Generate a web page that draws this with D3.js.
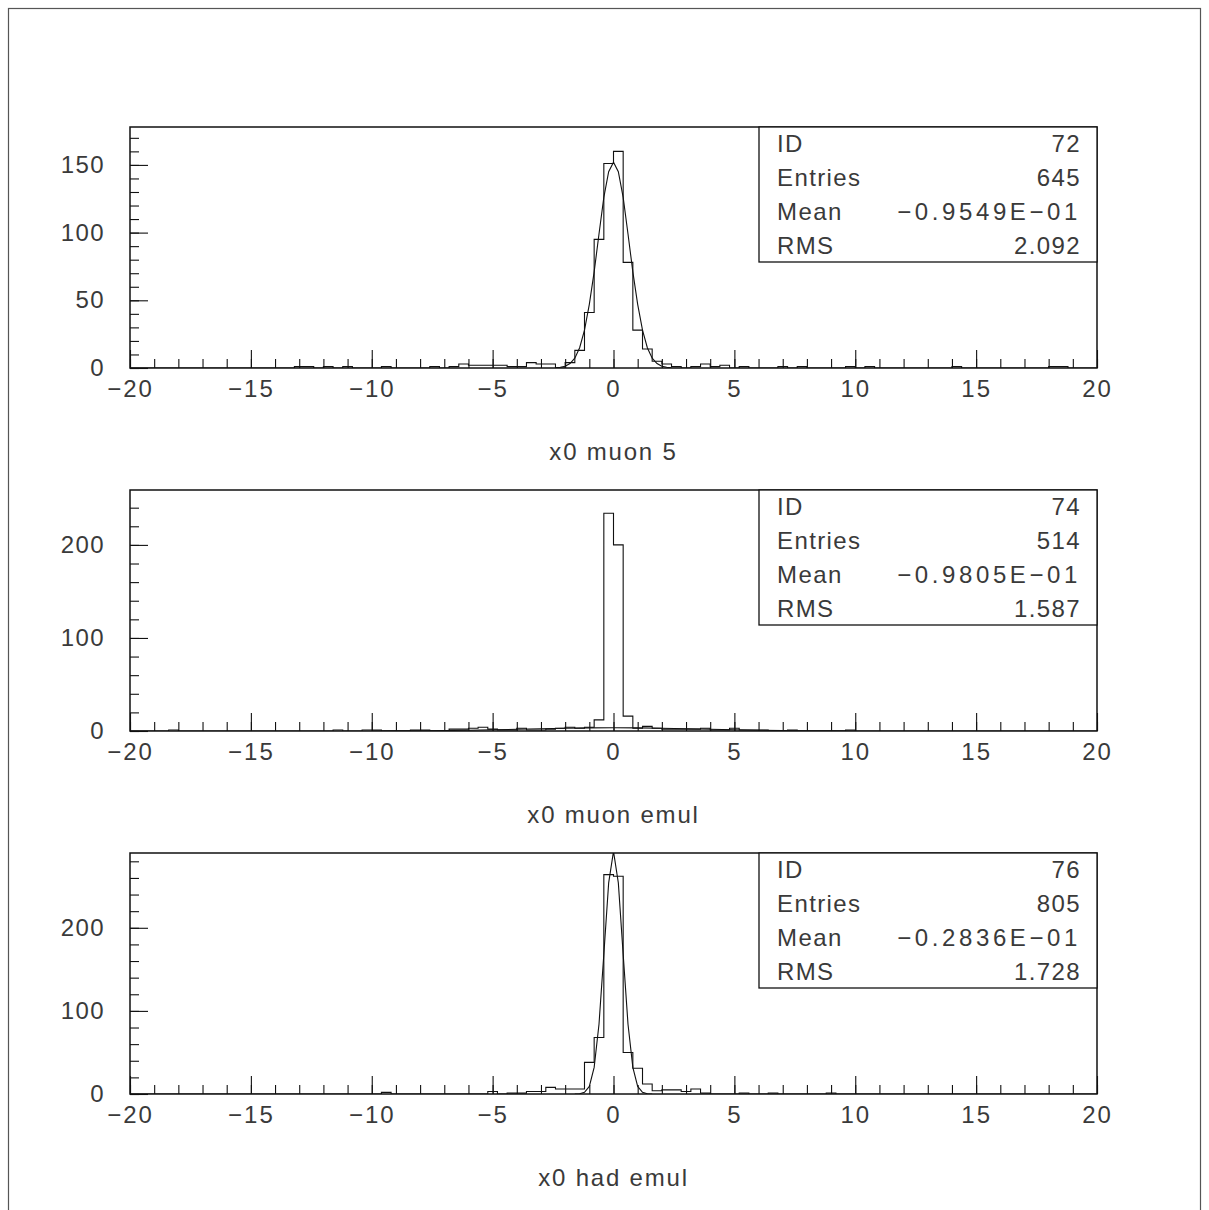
<!DOCTYPE html>
<html><head><meta charset="utf-8">
<script src="https://cdn.jsdelivr.net/npm/d3@7"></script>
<style>
body{margin:0;background:#fff}
text{font-family:"Liberation Sans",Arial,sans-serif;font-size:24px;letter-spacing:1.4px;fill:#3a3a3a}
</style>
</head><body>
<svg id="c" width="1209" height="1210"></svg>
<script>
// ---------- DATA ----------
const xDomain = [-20, 20];
const nBins = 100;
const xMajorTicks = [-20, -15, -10, -5, 0, 5, 10, 15, 20];

const titles = ["x0 muon 5", "x0 muon emul", "x0 had emul"];
const statLabels = ["ID", "Entries", "Mean", "RMS"];
const histIds = ["72", "74", "76"];
const histEntries = ["645", "514", "805"];
const histMeans = ["\u22120.9549E\u221201", "\u22120.9805E\u221201", "\u22120.2836E\u221201"];
const histRms = ["2.092", "1.587", "1.728"];

const yMaxes = [178, 259, 290];
const yMajorTicks = [[0, 50, 100, 150], [0, 100, 200], [0, 100, 200]];
const yMinorStep = [10, 20, 20];

// bin contents, 100 bins of width 0.4 from -20 to 20
const h72 = [
  0,0,0,0,0,0,0,0,0,0,
  0,0,0,0,0,0,0,1,1,0,
  1,0,1,0,0,0,1,0,0,0,
  0,1,0,1,3,2,2,2,2,1,
  1,4,3,3,0,4,13,41,95,151,
  160,78,28,14,5,3,1,0,1,3,
  1,2,0,1,0,0,0,1,0,1,
  0,0,0,0,1,0,1,0,0,0,
  0,0,0,0,0,1,0,0,0,0,
  0,0,0,0,0,1,1,0,0,0];
const h74 = [
  0,0,0,0,1,0,0,0,0,0,
  0,0,0,0,0,0,0,0,0,0,
  0,1,0,0,1,1,0,0,0,1,
  1,0,0,2,2,3,4,2,1,1,
  3,1,1,2,3,4,3,4,12,234,
  200,16,3,5,3,2,2,2,2,3,
  1,1,3,1,1,1,0,0,1,0,
  0,0,0,0,1,0,0,0,0,0,
  0,0,0,0,0,0,0,0,0,0,
  0,0,0,0,0,0,0,0,0,0];
const h76 = [
  0,0,0,0,0,0,0,0,0,0,
  0,0,0,0,0,0,0,0,0,0,
  0,0,0,0,0,0,2,0,0,0,
  0,0,0,0,0,0,0,3,0,1,
  1,3,3,8,6,6,6,38,68,264,
  262,50,31,12,4,5,5,3,6,1,
  0,0,0,1,0,0,1,0,0,0,
  0,0,1,0,0,0,0,0,0,0,
  0,0,0,0,0,0,0,0,0,0,
  0,0,0,0,0,0,0,0,0,0];

const fit72X = [-2.4,-2.2,-2.0,-1.8,-1.6,-1.4,-1.2,-1.0,-0.8,-0.6,-0.4,-0.2,0,0.2,0.4,0.6,0.8,1.0,1.2,1.4,1.6,1.8,2.0,2.2,2.4];
const fit72Y = [0.1,0.5,1.3,3.3,7.3,15,28,47,71,99,126,145,152,145,126,99,71,47,28,15,7.3,3.3,1.3,0.5,0.1];
const fit74X = [-10,-9,-8,-7,-6,-5,-4,-3,-2,-1,0,1,2,3,4,5,6,7,8,9,10];
const fit74Y = [0.06,0.13,0.25,0.47,0.81,1.27,1.83,2.41,2.97,3.36,3.5,3.36,2.97,2.41,1.83,1.27,0.81,0.47,0.25,0.13,0.06];
const fit76X = [-1.6,-1.4,-1.2,-1.0,-0.8,-0.6,-0.4,-0.2,0,0.2,0.4,0.6,0.8,1.0,1.2,1.4,1.6];
const fit76Y = [0.04,0.33,2,9.1,32,84,168,254,292,254,168,84,32,9.1,2,0.33,0.04];

const countsList = [h72, h74, h76];
const fitXs = [fit72X, fit74X, fit76X];
const fitYs = [fit72Y, fit74Y, fit76Y];

// ---------- DRAW ----------
const svg = d3.select("#c");
svg.append("rect").attr("x", 8.5).attr("y", 8.5).attr("width", 1192).attr("height", 1230)
  .attr("fill", "none").attr("stroke", "#555").attr("stroke-width", 1.2);

const L = 130, R = 1097, plotH = 241;
const tops = [127, 490, 853];
const x = d3.scaleLinear().domain(xDomain).range([L, R]);
const binW = (xDomain[1] - xDomain[0]) / nBins;

titles.forEach((title, k) => {
  const top = tops[k], bottom = top + plotH;
  const y = d3.scaleLinear().domain([0, yMaxes[k]]).range([bottom, top]);
  const g = svg.append("g");

  const clipId = "clip" + k;
  svg.append("clipPath").attr("id", clipId).append("rect")
    .attr("x", L).attr("y", top).attr("width", R - L).attr("height", plotH);

  // histogram step outline
  const counts = countsList[k];
  const pts = [[x(xDomain[0]), y(0)]];
  counts.forEach((c, i) => {
    const x0 = xDomain[0] + i * binW, x1 = x0 + binW;
    pts.push([x(x0), y(c)], [x(x1), y(c)]);
  });
  pts.push([x(xDomain[1]), y(0)]);
  g.append("path").attr("d", d3.line()(pts)).attr("fill", "none")
    .attr("stroke", "#111").attr("stroke-width", 1.1).attr("clip-path", `url(#${clipId})`);

  // fit curve
  const fx = fitXs[k], fy = fitYs[k];
  g.append("path").attr("d", d3.line().x((d, i) => x(fx[i])).y((d, i) => y(fy[i]))(fx))
    .attr("fill", "none").attr("stroke", "#111").attr("stroke-width", 1.1)
    .attr("clip-path", `url(#${clipId})`);

  // x axis minor ticks
  const xMinor = g.append("g").attr("transform", `translate(0,${bottom})`)
    .call(d3.axisBottom(x).tickValues(d3.range(-20, 21, 1)).tickSizeInner(-9).tickSizeOuter(0).tickFormat(""));
  xMinor.select(".domain").remove();
  // x axis major ticks + labels
  const xMaj = g.append("g").attr("transform", `translate(0,${bottom})`)
    .call(d3.axisBottom(x).tickValues(xMajorTicks).tickSizeInner(-18).tickSizeOuter(0).tickPadding(12));
  xMaj.select(".domain").remove();

  // y axis minor ticks
  const yMin = g.append("g").attr("transform", `translate(${L},0)`)
    .call(d3.axisLeft(y).tickValues(d3.range(0, yMaxes[k], yMinorStep[k])).tickSizeInner(-9).tickSizeOuter(0).tickFormat(""));
  yMin.select(".domain").remove();
  const yMaj = g.append("g").attr("transform", `translate(${L},0)`)
    .call(d3.axisLeft(y).tickValues(yMajorTicks[k]).tickSizeInner(-18).tickSizeOuter(0).tickPadding(25));
  yMaj.select(".domain").remove();

  g.selectAll(".tick line").attr("stroke", "#111").attr("stroke-width", 1.1);
  g.selectAll(".tick text").attr("font-family", null).attr("font-size", null).attr("fill", null);
  xMaj.selectAll(".tick text").style("letter-spacing", "2px");

  // frame
  g.append("rect").attr("x", L).attr("y", top).attr("width", R - L).attr("height", plotH)
    .attr("fill", "none").attr("stroke", "#111").attr("stroke-width", 1.5);

  // stats box
  const bx = 759, bw = R - bx, bh = 135, rowH = bh / 4;
  g.append("rect").attr("x", bx).attr("y", top).attr("width", bw).attr("height", bh)
    .attr("fill", "#fff").attr("stroke", "#111").attr("stroke-width", 1.3);
  const vals = [histIds[k], histEntries[k], histMeans[k], histRms[k]];
  statLabels.forEach((lab, r) => {
    const cy = top + rowH * (r + 0.5);
    g.append("text").attr("x", 777).attr("y", cy).attr("dominant-baseline", "central").text(lab);
    const t = g.append("text").attr("x", 1081).attr("y", cy).attr("dominant-baseline", "central")
      .attr("text-anchor", "end").text(vals[r]);
    if (r === 2) t.style("letter-spacing", "3.6px");
  });

  // title
  g.append("text").attr("x", (L + R) / 2).attr("y", bottom + 83).attr("dominant-baseline", "central")
    .attr("text-anchor", "middle").style("letter-spacing", "1.8px").text(title);
});
</script>
</body></html>
